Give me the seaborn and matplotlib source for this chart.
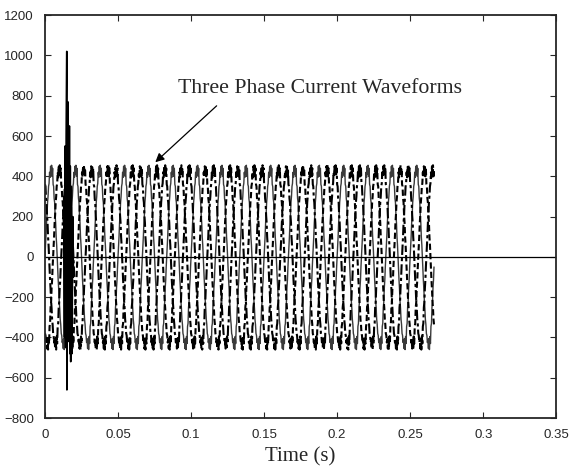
import numpy as np
import pandas as pd
import matplotlib
matplotlib.use("Agg")
import matplotlib.pyplot as plt
import seaborn as sns

sns.set_style("ticks")
plt.rcParams["font.family"] = ["Liberation Sans", "DejaVu Sans"]
plt.rcParams["xtick.direction"] = "in"
plt.rcParams["ytick.direction"] = "in"

# one 60 Hz cycle of phase A, read every 7.5 degrees (A)
cycle_a = [0, 60, 105, 170, 210, 270, 300, 350, 365, 420, 395, 450,
           410, 455, 400, 440, 360, 350, 290, 270, 205, 170, 100, 60,
           0, -55, -115, -160, -220, -255, -310, -335, -380, -390, -425, -410,
           -455, -405, -460, -395, -430, -345, -330, -250, -225, -155, -115, -50]
n_cycles = 16
samples_per_cycle = 48
freq_hz = 60
phase_shift = [0, 16, 32]          # samples (120 degree steps)
phase_names = ["A", "B", "C"]

# fault transient near t = 0.015 s
spike_t = [0.0128, 0.0133, 0.0137, 0.0141, 0.0145, 0.0149, 0.0150, 0.0153, 0.0156,
           0.0158, 0.0161, 0.0164, 0.0167, 0.0170, 0.0173, 0.0176, 0.0180, 0.0185,
           0.0190, 0.0195]
spike_i = [300, -400, 550, -450, 600, 1020, -660, 500, 770,
           -350, 600, -420, 650, -480, 450, -520, 350, -480, 200, -100]

wave_a = np.tile(cycle_a, n_cycles)
t = np.arange(len(wave_a)) / (freq_hz * samples_per_cycle)

rows = []
for name, shift in zip(phase_names, phase_shift):
    rows.append(pd.DataFrame({"t": t, "i": np.roll(wave_a, shift), "phase": name}))
df = pd.concat(rows, ignore_index=True)
spikes = pd.DataFrame({"t": spike_t, "i": spike_i})

fig = plt.figure(figsize=(5.77, 4.74), dpi=100)
ax = fig.add_axes([0.078, 0.118, 0.886, 0.850])

sns.lineplot(data=df[df.phase == "A"], x="t", y="i", color="#3a3a3a",
             estimator=None, linewidth=1.0, legend=False, ax=ax)
sns.lineplot(data=df[df.phase != "A"], x="t", y="i", style="phase", color="black",
             dashes={"B": (3, 1.5), "C": (5, 1.5, 1.5, 1.5)},
             estimator=None, linewidth=1.5, legend=False, ax=ax)
sns.lineplot(data=spikes, x="t", y="i", color="black", estimator=None,
             linewidth=1.2, legend=False, ax=ax)
ax.axhline(0, color="black", linewidth=0.9)

ax.set_xlim(0, 0.35)
ax.set_ylim(-800, 1200)
ax.set_xticks(np.arange(0, 0.351, 0.05))
ax.set_xticklabels(["0", "0.05", "0.1", "0.15", "0.2", "0.25", "0.3", "0.35"])
ax.set_yticks(np.arange(-800, 1201, 200))
ax.tick_params(labelsize=9.5, top=True, right=True, length=4, width=0.8)
ax.tick_params(axis="x", pad=8)
ax.tick_params(axis="y", pad=8)
for s in ax.spines.values():
    s.set_linewidth(1.3)
    s.set_visible(True)

ax.set_xlabel("Time (s)", family="Liberation Serif", fontsize=15, labelpad=4)
ax.set_ylabel("")
ax.text(0.188, 838, "Three Phase Current Waveforms", ha="center", va="center",
        family="Liberation Serif", fontsize=15.7)
ax.annotate("", xy=(0.0755, 470), xytext=(0.1175, 750),
            arrowprops=dict(arrowstyle="-|>", color="black", lw=0.9,
                            shrinkA=0, shrinkB=0, mutation_scale=13))

fig.savefig("out.png", dpi=100)
